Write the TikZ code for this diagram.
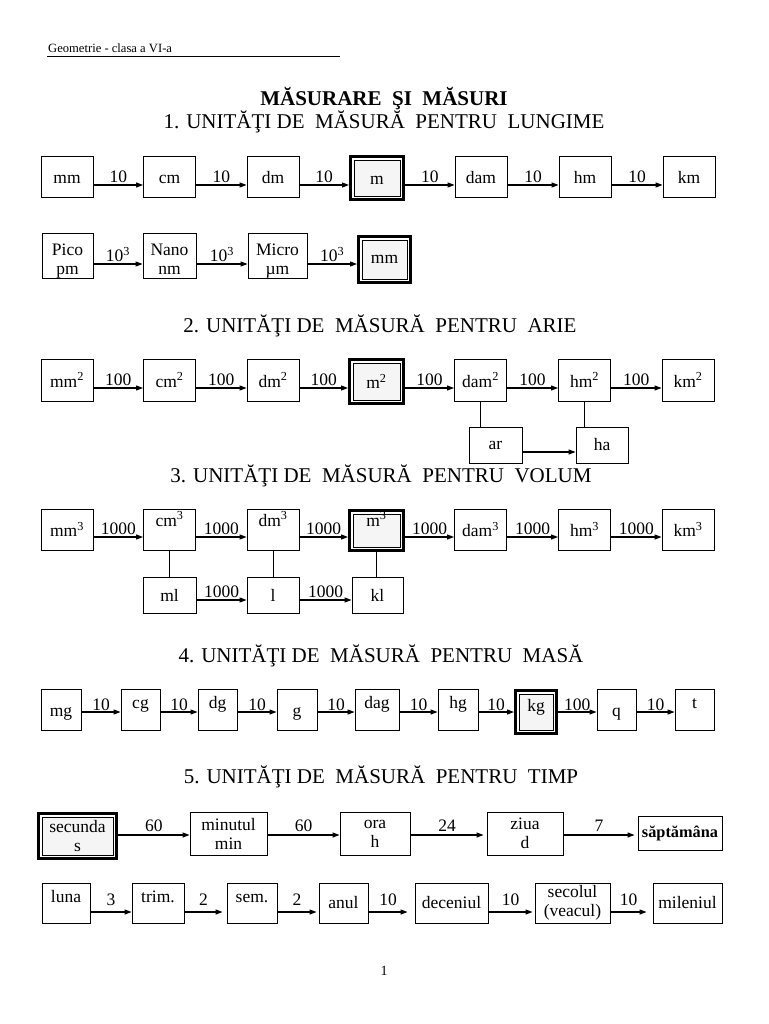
\documentclass[tikz,border=0pt]{standalone}
\usepackage{fontspec}
\setmainfont{Liberation Serif}
\usetikzlibrary{arrows.meta}
\tikzset{
  unitbox/.style={draw,line width=0.9pt,inner sep=0pt,minimum width=52pt,minimum height=41pt,align=center,font=\fontsize{17.5}{19}\selectfont},
  baseunit/.style={unitbox,fill=gray!8,outer sep=5pt,preaction={draw,line width=10pt},preaction={draw=white,line width=4pt}},
  conv/.style={-{Triangle[length=7pt,width=5pt]},line width=1.1pt},
  link/.style={line width=0.9pt},
  factor/.style={midway,above,inner sep=1.5pt,font=\fontsize{17.5}{19}\selectfont},
  hightext/.style={text height=8pt,text depth=10pt},
  lowtext/.style={text height=13pt,text depth=0pt},
  toptext/.style={text height=5pt,text depth=12pt},
  twoline/.style={text height=37pt,text depth=0pt},
  heading/.style={anchor=base,font=\fontsize{21}{24}\selectfont}
}

\begin{document}
\begin{tikzpicture}[x=1pt,y=-1pt]
    \useasboundingbox (0,0) rectangle (768,1024);
    % header and titles
    \node[anchor=base west,inner sep=0pt,font=\fontsize{12.6}{14}\selectfont] (hdr) at (48,53) {Geometrie - clasa a VI-a};
    \draw[line width=0.8pt] (47,56) -- (340,56);
    \node[heading,font=\fontsize{21}{24}\selectfont\bfseries] (title) at (384,106) {MĂSURARE~ ŞI~ MĂSURI};
    \node[heading] (h1) at (384,129) {1. UNITĂŢI DE~ MĂSURĂ~ PENTRU~ LUNGIME};
    \node[heading] (h2) at (380,332) {2. UNITĂŢI DE~ MĂSURĂ~ PENTRU~ ARIE};
    \node[heading] (h3) at (381,482) {3. UNITĂŢI DE~ MĂSURĂ~ PENTRU~ VOLUM};
    \node[heading] (h4) at (381,662) {4. UNITĂŢI DE~ MĂSURĂ~ PENTRU~ MASĂ};
    \node[heading] (h5) at (381,783) {5. UNITĂŢI DE~ MĂSURĂ~ PENTRU~ TIMP};

    % 1. lungime
    \coordinate (r1) at (0,185);
    \node[unitbox,lowtext] (mmL) at (67,177) {mm};
    \node[unitbox,lowtext] (cmL) at (169.5,177) {cm};
    \node[unitbox,lowtext] (dmL) at (273,177) {dm};
    \node[baseunit,lowtext,minimum width=46pt,minimum height=36pt] (mL) at (377,178) {m};
    \node[unitbox,lowtext] (damL) at (481,177) {dam};
    \node[unitbox,lowtext] (hmL) at (585,177) {hm};
    \node[unitbox,lowtext] (kmL) at (689,177) {km};
    \draw[conv] (mmL.east |- r1) -- node[factor]{10} (cmL.west |- r1);
    \draw[conv] (cmL.east |- r1) -- node[factor]{10} (dmL.west |- r1);
    \draw[conv] (dmL.east |- r1) -- node[factor]{10} (mL.west |- r1);
    \draw[conv] (mL.east |- r1) -- node[factor]{10} (damL.west |- r1);
    \draw[conv] (damL.east |- r1) -- node[factor]{10} (hmL.west |- r1);
    \draw[conv] (hmL.east |- r1) -- node[factor]{10} (kmL.west |- r1);

    \coordinate (r2) at (0,264);
    \node[unitbox,twoline,minimum width=51pt,minimum height=45pt] (pico) at (67.5,255.5) {Pico\\pm};
    \node[unitbox,twoline,minimum width=53pt,minimum height=45pt] (nano) at (169.5,255.5) {Nano\\nm};
    \node[unitbox,twoline,minimum width=59pt,minimum height=45pt] (micro) at (277.5,255.5) {Micro\\µm};
    \node[baseunit,minimum width=45pt,minimum height=39pt] (mmS) at (384.5,259.5) {mm};
    \draw[conv] (pico.east |- r2) -- node[factor]{10\textsuperscript{3}} (nano.west |- r2);
    \draw[conv] (nano.east |- r2) -- node[factor]{10\textsuperscript{3}} (micro.west |- r2);
    \draw[conv] (micro.east |- r2) -- node[factor]{10\textsuperscript{3}} (mmS.west |- r2);

    % 2. arie
    \coordinate (r3) at (0,388);
    \coordinate (r3b) at (0,452);
    \node[unitbox,minimum height=42pt] (mmA) at (67,380) {mm\textsuperscript{2}};
    \node[unitbox,minimum height=42pt] (cmA) at (169.5,380) {cm\textsuperscript{2}};
    \node[unitbox,minimum height=42pt] (dmA) at (273,380) {dm\textsuperscript{2}};
    \node[baseunit,minimum width=47pt,minimum height=37pt] (mA) at (376.5,381.5) {m\textsuperscript{2}};
    \node[unitbox,minimum height=42pt] (damA) at (480.5,380) {dam\textsuperscript{2}};
    \node[unitbox,minimum height=42pt] (hmA) at (584.5,380) {hm\textsuperscript{2}};
    \node[unitbox,minimum height=42pt] (kmA) at (688,380) {km\textsuperscript{2}};
    \draw[conv] (mmA.east |- r3) -- node[factor]{100} (cmA.west |- r3);
    \draw[conv] (cmA.east |- r3) -- node[factor]{100} (dmA.west |- r3);
    \draw[conv] (dmA.east |- r3) -- node[factor]{100} (mA.west |- r3);
    \draw[conv] (mA.east |- r3) -- node[factor]{100} (damA.west |- r3);
    \draw[conv] (damA.east |- r3) -- node[factor]{100} (hmA.west |- r3);
    \draw[conv] (hmA.east |- r3) -- node[factor]{100} (kmA.west |- r3);
    \node[unitbox,minimum width=53pt,minimum height=36pt] (ar) at (495.5,445) {ar};
    \node[unitbox,minimum width=52pt,minimum height=36pt] (ha) at (602,445) {ha};
    \draw[link] (damA.south) -- (damA.south |- ar.north);
    \draw[link] (hmA.south) -- (hmA.south |- ha.north);
    \draw[conv] (ar.east |- r3b) -- (ha.west |- r3b);

    % 3. volum
    \coordinate (r4) at (0,537);
    \coordinate (r4b) at (0,600);
    \node[unitbox] (mmV) at (67,529.5) {mm\textsuperscript{3}};
    \node[unitbox,toptext] (cmV) at (169.5,529.5) {cm\textsuperscript{3}};
    \node[unitbox,toptext] (dmV) at (273,529.5) {dm\textsuperscript{3}};
    \node[baseunit,minimum width=47pt,minimum height=33pt,text height=5pt,text depth=14pt] (mV) at (376.5,530.5) {m\textsuperscript{3}};
    \node[unitbox] (damV) at (480.5,529.5) {dam\textsuperscript{3}};
    \node[unitbox] (hmV) at (584.5,529.5) {hm\textsuperscript{3}};
    \node[unitbox] (kmV) at (688,529.5) {km\textsuperscript{3}};
    \draw[conv] (mmV.east |- r4) -- node[factor]{1000} (cmV.west |- r4);
    \draw[conv] (cmV.east |- r4) -- node[factor]{1000} (dmV.west |- r4);
    \draw[conv] (dmV.east |- r4) -- node[factor]{1000} (mV.west |- r4);
    \draw[conv] (mV.east |- r4) -- node[factor]{1000} (damV.west |- r4);
    \draw[conv] (damV.east |- r4) -- node[factor]{1000} (hmV.west |- r4);
    \draw[conv] (hmV.east |- r4) -- node[factor]{1000} (kmV.west |- r4);
    \node[unitbox,minimum width=53pt,minimum height=36pt] (ml) at (169.5,595) {ml};
    \node[unitbox,minimum width=52pt,minimum height=36pt] (l) at (273,595) {l};
    \node[unitbox,minimum width=51pt,minimum height=36pt] (kl) at (377.5,595) {kl};
    \draw[link] (cmV.south) -- (cmV.south |- ml.north);
    \draw[link] (dmV.south) -- (dmV.south |- l.north);
    \draw[link] (mV.south) -- (mV.south |- kl.north);
    \draw[conv] (ml.east |- r4b) -- node[factor]{1000} (l.west |- r4b);
    \draw[conv] (l.east |- r4b) -- node[factor]{1000} (kl.west |- r4b);

    % 4. masa
    \coordinate (r5) at (0,712);
    \node[unitbox,lowtext,minimum width=40pt] (mg) at (61,709.5) {mg};
    \node[unitbox,hightext,minimum width=39pt] (cg) at (140.5,709.5) {cg};
    \node[unitbox,hightext,minimum width=39pt] (dg) at (217.5,709.5) {dg};
    \node[unitbox,lowtext,minimum width=40pt] (g) at (297,709.5) {g};
    \node[unitbox,hightext,minimum width=44pt] (dag) at (377,709.5) {dag};
    \node[unitbox,hightext,minimum width=40pt] (hg) at (458,709.5) {hg};
    \node[baseunit,hightext,minimum width=34pt,minimum height=36pt] (kg) at (536,712) {kg};
    \node[unitbox,lowtext,minimum width=39pt] (q) at (616.5,709.5) {q};
    \node[unitbox,hightext,minimum width=39pt] (t) at (694.5,709.5) {t};
    \draw[conv] (mg.east |- r5) -- node[factor,inner sep=0.5pt]{10} (cg.west |- r5);
    \draw[conv] (cg.east |- r5) -- node[factor,inner sep=0.5pt]{10} (dg.west |- r5);
    \draw[conv] (dg.east |- r5) -- node[factor,inner sep=0.5pt]{10} (g.west |- r5);
    \draw[conv] (g.east |- r5) -- node[factor,inner sep=0.5pt]{10} (dag.west |- r5);
    \draw[conv] (dag.east |- r5) -- node[factor,inner sep=0.5pt]{10} (hg.west |- r5);
    \draw[conv] (hg.east |- r5) -- node[factor,inner sep=0.5pt]{10} (kg.west |- r5);
    \draw[conv] (kg.east |- r5) -- node[factor,inner sep=0.5pt]{100} (q.west |- r5);
    \draw[conv] (q.east |- r5) -- node[factor,inner sep=0.5pt]{10} (t.west |- r5);

    % 5. timp
    \coordinate (r6) at (0,835);
    \coordinate (r7) at (0,912);
    \node[baseunit,minimum width=71pt,minimum height=38pt] (sec) at (77.5,836) {secunda\\s};
    \node[unitbox,minimum width=77pt,minimum height=43pt] (min) at (228.5,833.5) {minutul\\min};
    \node[unitbox,minimum width=70pt,minimum height=43pt] (ora) at (375,833.5) {ora\\h};
    \node[unitbox,minimum width=76pt,minimum height=43pt] (ziua) at (525,833.5) {ziua\\d};
    \node[unitbox,minimum width=84pt,minimum height=34pt,font=\fontsize{16.3}{18}\selectfont\bfseries] (sapt) at (680,833) {săptămâna};
    \draw[conv] (sec.east |- r6) -- node[factor,inner sep=3pt]{60} (min.west |- r6);
    \draw[conv] (min.east |- r6) -- node[factor,inner sep=3pt]{60} (ora.west |- r6);
    \draw[conv] (ora.east |- r6) -- node[factor,inner sep=3pt]{24} ([xshift=-3pt]ziua.west |- r6);
    \draw[conv] (ziua.east |- r6) -- node[factor,inner sep=3pt]{7} ([xshift=-3pt]sapt.west |- r6);

    \node[unitbox,hightext,minimum width=48pt,minimum height=40pt] (luna) at (66,903) {luna};
    \node[unitbox,hightext,minimum width=52pt,minimum height=40pt] (trim) at (158,903) {trim.};
    \node[unitbox,hightext,minimum width=50pt,minimum height=40pt] (sem) at (252,903) {sem.};
    \node[unitbox,minimum width=49pt,minimum height=40pt] (anul) at (343.5,903) {anul};
    \node[unitbox,minimum width=73pt,minimum height=40pt] (dec) at (451.5,903) {deceniul};
    \node[unitbox,minimum width=75pt,minimum height=40pt] (secol) at (572.5,903) {secolul\\(veacul)};
    \node[unitbox,minimum width=69pt,minimum height=40pt] (mil) at (687.5,903) {mileniul};
    \draw[conv] (luna.east |- r7) -- node[factor,inner sep=6pt]{3} (trim.west |- r7);
    \draw[conv] (trim.east |- r7) -- node[factor,inner sep=6pt]{2} ([xshift=-4pt]sem.west |- r7);
    \draw[conv] (sem.east |- r7) -- node[factor,inner sep=6pt]{2} ([xshift=-2pt]anul.west |- r7);
    \draw[conv] (anul.east |- r7) -- node[factor,inner sep=6pt]{10} ([xshift=-7pt]dec.west |- r7);
    \draw[conv] (dec.east |- r7) -- node[factor,inner sep=6pt]{10} ([xshift=-2pt]secol.west |- r7);
    \draw[conv] (secol.east |- r7) -- node[factor,inner sep=6pt]{10} ([xshift=-6pt]mil.west |- r7);

    \node[font=\fontsize{14}{16}\selectfont] (pg) at (384,971) {1};
\end{tikzpicture}
\end{document}
